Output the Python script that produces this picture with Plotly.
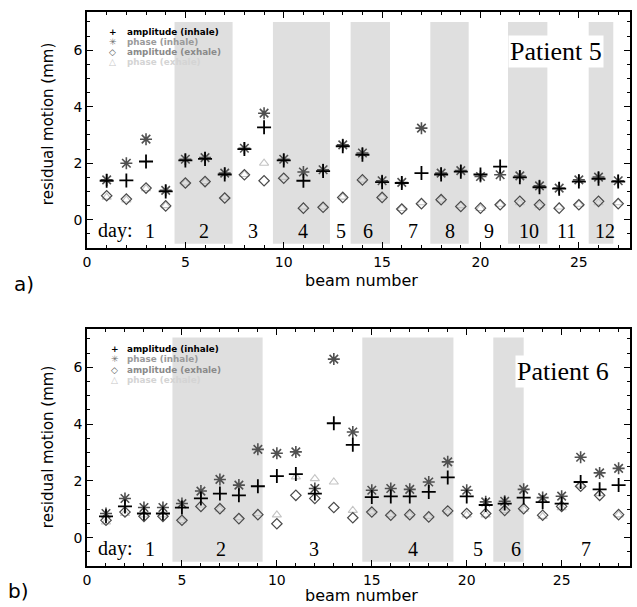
import plotly.graph_objects as go

# ---------------- data ----------------
beams_p5 = list(range(1, 28))
amp_inh_p5 = [1.38, 1.39, 2.06, 1.00, 2.10, 2.15, 1.60, 2.50, 3.27, 2.10, 1.38, 1.72, 2.60, 2.30,
              1.33, 1.30, 1.65, 1.60, 1.70, 1.60, 1.88, 1.50, 1.15, 1.10, 1.35, 1.45, 1.35]
pha_inh_p5 = [1.41, 2.00, 2.85, 1.04, 2.14, 2.20, 1.65, 2.53, 3.77, 2.14, 1.69, 1.77, 2.65, 2.36,
              1.38, 1.32, 3.24, 1.65, 1.74, 1.53, 1.59, 1.55, 1.20, 1.12, 1.41, 1.51, 1.38]
amp_exh_p5 = [0.85, 0.73, 1.12, 0.49, 1.30, 1.35, 0.77, 1.59, 1.38, 1.47, 0.41, 0.44, 0.79, 1.41,
              0.79, 0.38, 0.57, 0.71, 0.47, 0.41, 0.53, 0.65, 0.53, 0.41, 0.53, 0.65, 0.57]
pha_exh_p5 = [0.80, 0.70, 1.10, 0.50, 1.30, 1.35, 0.80, 1.60, 2.00, 1.50, 0.45, 0.45, 0.80, 1.40,
              0.80, 0.40, 0.60, 0.70, 0.50, 0.40, 0.55, 0.60, 0.50, 0.45, 0.55, 0.60, 0.60]

beams_p6 = list(range(1, 29))
amp_inh_p6 = [0.75, 1.10, 0.85, 0.85, 1.06, 1.38, 1.55, 1.49, 1.81, 2.17, 2.24, 1.55, 4.03, 3.27,
              1.43, 1.45, 1.45, 1.61, 2.12, 1.45, 1.15, 1.20, 1.41, 1.25, 1.20, 1.96, 1.70, 1.85]
pha_inh_p6 = [0.85, 1.38, 1.06, 1.06, 1.20, 1.64, 2.05, 1.85, 3.11, 2.97, 3.02, 1.73, 6.29, 3.72,
              1.67, 1.73, 1.70, 1.96, 2.67, 1.67, 1.26, 1.28, 1.70, 1.41, 1.46, 2.83, 2.28, 2.44]
amp_exh_p6 = [0.61, 0.90, 0.75, 0.75, 0.61, 1.10, 1.02, 0.67, 0.81, 0.49, 1.49, 1.38, 1.06, 0.70,
              0.90, 0.79, 0.81, 0.73, 0.94, 0.85, 0.85, 0.96, 1.02, 0.79, 1.10, 1.81, 1.49, 0.81]
pha_exh_p6 = [0.55, 0.85, 0.80, 0.80, 0.60, 1.15, 1.00, 0.70, 0.85, 0.80, 2.14, 2.08, 1.96, 0.96,
              0.90, 0.80, 0.80, 0.75, 0.90, 0.80, 0.80, 0.95, 1.00, 0.75, 1.05, 1.85, 1.55, 0.80]

series_names = ["amplitude (inhale)", "phase (inhale)", "amplitude (exhale)", "phase (exhale)"]

# day labels (text and x position in beam units)
day_labels_p5 = ["1", "2", "3", "4", "5", "6", "7", "8", "9", "10", "11", "12"]
day_label_x_p5 = [3.18, 5.93, 8.45, 11.0, 12.93, 14.28, 16.58, 18.47, 20.42, 22.45, 24.36, 26.33]
day_labels_p6 = ["1", "2", "3", "4", "5", "6", "7"]
day_label_x_p6 = [3.34, 7.05, 11.95, 17.16, 20.6, 22.6, 26.3]

# shaded (even) days: [start, end] in beam units
shaded_p5 = [[4.45, 7.4], [9.45, 12.35], [13.4, 15.4], [17.45, 19.4], [21.4, 23.4], [25.5, 26.75]]
shaded_p6 = [[4.5, 9.25], [14.5, 19.3], [21.4, 23.0]]

# ---------------- styles ----------------
W, H = 637, 607
ML, MR, MT, MB = 87, 5, 12, 41
PW, PH = W - ML - MR, H - MT - MB


def px_x(x):
    return (x - ML) / PW


def px_y(y):
    return (H - MB - y) / PH


sty = {
    "amplitude (inhale)": dict(symbol="cross-thin", size=10, color="black", line=dict(color="black", width=1.8)),
    "phase (inhale)": dict(symbol="asterisk", size=10, color="#505050", line=dict(color="#505050", width=1.6)),
    "amplitude (exhale)": dict(symbol="diamond-open", size=8, color="#4a4a4a", line=dict(color="#4a4a4a", width=1.2)),
    "phase (exhale)": dict(symbol="triangle-up-open", size=8, color="#c4c4c4", line=dict(color="#c4c4c4", width=1.1)),
}
draw_order = ["phase (exhale)", "amplitude (exhale)", "phase (inhale)", "amplitude (inhale)"]

fig = go.Figure()

panels = [
    dict(x=beams_p5, vals={"amplitude (inhale)": amp_inh_p5, "phase (inhale)": pha_inh_p5,
                           "amplitude (exhale)": amp_exh_p5, "phase (exhale)": pha_exh_p5},
         xa="x", ya="y"),
    dict(x=beams_p6, vals={"amplitude (inhale)": amp_inh_p6, "phase (inhale)": pha_inh_p6,
                           "amplitude (exhale)": amp_exh_p6, "phase (exhale)": pha_exh_p6},
         xa="x2", ya="y2"),
]
for p in panels:
    for name in draw_order:
        fig.add_trace(go.Scatter(x=p["x"], y=p["vals"][name], mode="markers", name=name,
                                 marker=sty[name], xaxis=p["xa"], yaxis=p["ya"],
                                 showlegend=False, cliponaxis=False))

shapes = []
band_color = "#dfdfdf"
for (x0, x1) in shaded_p5:
    shapes.append(dict(type="rect", xref="x", yref="y", x0=x0, x1=x1, y0=-0.85, y1=7.0,
                       fillcolor=band_color, line=dict(width=0), layer="below"))
for (x0, x1) in shaded_p6:
    shapes.append(dict(type="rect", xref="x2", yref="y2", x0=x0, x1=x1, y0=-0.85, y1=7.05,
                       fillcolor=band_color, line=dict(width=0), layer="below"))
# white legend boxes
shapes.append(dict(type="rect", xref="paper", yref="paper", x0=px_x(104), x1=px_x(236),
                   y0=px_y(68), y1=px_y(22), fillcolor="white", line=dict(width=0), layer="below"))
shapes.append(dict(type="rect", xref="paper", yref="paper", x0=px_x(104), x1=px_x(240),
                   y0=px_y(386), y1=px_y(339), fillcolor="white", line=dict(width=0), layer="below"))

ann = []
serif = "Liberation Serif, Times New Roman, serif"
sans = "DejaVu Sans, sans-serif"


def pann(text, x, y, size, color="black", family=sans, xanchor="center", **kw):
    ann.append(dict(text=text, x=px_x(x), y=px_y(y), xref="paper", yref="paper", showarrow=False,
                    xanchor=xanchor, yanchor="middle", font=dict(family=family, size=size, color=color), **kw))


for t, xv in zip(day_labels_p5, day_label_x_p5):
    ann.append(dict(text=t, x=xv, y=-0.39, xref="x", yref="y", showarrow=False, xanchor="center",
                    yanchor="middle", font=dict(family=serif, size=20, color="black")))
for t, xv in zip(day_labels_p6, day_label_x_p6):
    ann.append(dict(text=t, x=xv, y=-0.39, xref="x2", yref="y2", showarrow=False, xanchor="center",
                    yanchor="middle", font=dict(family=serif, size=20, color="black")))
ann.append(dict(text="day:", x=1.4, y=-0.39, xref="x", yref="y", showarrow=False, xanchor="center",
                yanchor="middle", font=dict(family=serif, size=20, color="black")))
ann.append(dict(text="day:", x=1.5, y=-0.39, xref="x2", yref="y2", showarrow=False, xanchor="center",
                yanchor="middle", font=dict(family=serif, size=20, color="black")))

pann("Patient 5", 558, 51, 26, family=serif, bgcolor="white")
pann("Patient 6", 565, 371, 26, family=serif, bgcolor="white")

# legend (drawn as text rows)
glyphs = {"amplitude (inhale)": "+", "phase (inhale)": "✳", "amplitude (exhale)": "◇", "phase (exhale)": "△"}
txtcol = {"amplitude (inhale)": "black", "phase (inhale)": "#9a9a9a",
          "amplitude (exhale)": "#8a8a8a", "phase (exhale)": "#d4d4d4"}
glycol = {"amplitude (inhale)": "black", "phase (inhale)": "#707070",
          "amplitude (exhale)": "#555555", "phase (exhale)": "#c8c8c8"}
for rows, gx, tx in [([31.7, 41.7, 51.7, 61.7], 113, 126), ([349.3, 359.3, 370, 380], 115, 126)]:
    for name, ry in zip(series_names, rows):
        pann("<b>%s</b>" % glyphs[name], gx, ry, 9, color=glycol[name], borderpad=0)
        pann("<b>%s</b>" % name, tx, ry, 8.8, color=txtcol[name], xanchor="left", borderpad=0)

# axis titles and panel letters
pann("beam number", 363, 280, 16)
pann("beam number", 363, 595, 16)
pann("residual motion (mm)", 48, 124, 15, textangle=-90)
pann("residual motion (mm)", 48, 447, 15, textangle=-90)
pann("a)", 24, 284, 20)
pann("b)", 18, 591, 20)

xcommon = dict(showline=True, linecolor="black", linewidth=1.5, mirror="ticks", ticks="inside",
               ticklen=6, tickwidth=1.2, tickcolor="black", dtick=5, tick0=0, showgrid=False,
               zeroline=False, tickfont=dict(family=sans, size=14, color="black"),
               minor=dict(dtick=1, ticks="inside", ticklen=3, tickcolor="black", tickwidth=1, showgrid=False))
ycommon = dict(showline=True, linecolor="black", linewidth=1.5, mirror="ticks", ticks="inside",
               ticklen=6, tickwidth=1.2, tickcolor="black", dtick=2, tick0=0, showgrid=False,
               zeroline=False, range=[-1, 7.35], tickfont=dict(family=sans, size=14, color="black"),
               minor=dict(dtick=0.5, ticks="inside", ticklen=3, tickcolor="black", tickwidth=1, showgrid=False))

fig.update_layout(
    width=W, height=H, margin=dict(l=ML, r=MR, t=MT, b=MB),
    paper_bgcolor="white", plot_bgcolor="white", showlegend=False,
    xaxis=dict(domain=[0, 1], range=[0, 27.6], anchor="y", **xcommon),
    yaxis=dict(domain=[px_y(248), 1], anchor="x", **ycommon),
    xaxis2=dict(domain=[0, 1], range=[0, 28.6], anchor="y2", **xcommon),
    yaxis2=dict(domain=[0, px_y(329)], anchor="x2", **ycommon),
    shapes=shapes, annotations=ann,
)

fig.write_html("out.html")
